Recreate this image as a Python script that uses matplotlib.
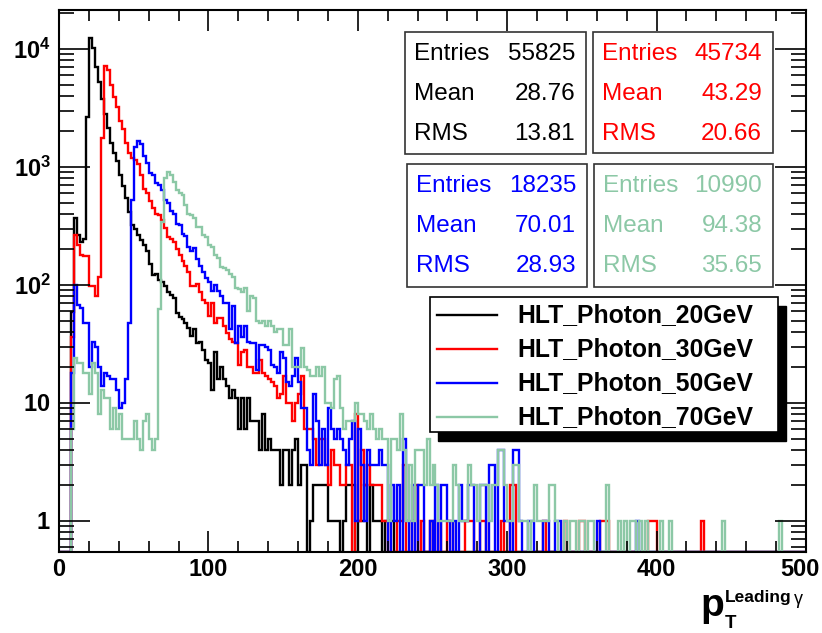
import matplotlib
matplotlib.use('Agg')
import matplotlib.pyplot as plt
import matplotlib.transforms as mtransforms
import numpy as np
from matplotlib.patches import Rectangle
from matplotlib.lines import Line2D
from matplotlib.ticker import FixedLocator, NullFormatter, FixedFormatter

plt.rcParams['font.family'] = ['Liberation Sans', 'DejaVu Sans']
plt.rcParams['mathtext.fontset'] = 'custom'
plt.rcParams['mathtext.rm'] = 'Liberation Sans'
plt.rcParams['mathtext.bf'] = 'Liberation Sans:bold'

# 2 GeV bins, 0-500 GeV
bin_edges = np.arange(0, 502, 2)

counts_20 = [
    0, 0, 0, 0, 59, 366, 263, 233, 243, 2630,
    12500, 10250, 7100, 5250, 3760, 2800, 2150, 1600, 1320, 1120,
    860, 684, 543, 418, 322, 300, 263, 240, 218, 196,
    150, 122, 124, 110, 106, 98, 87, 82, 78, 58,
    54, 51, 48, 43, 37, 42, 32, 33, 28, 23,
    22, 13, 27, 16, 20, 16, 14, 11, 13, 11,
    6, 11, 6, 11, 7, 7, 7, 4, 8, 4,
    5, 4, 4, 4, 2, 4, 4, 2, 4, 5,
    2, 3, 3, 0, 1, 2, 2, 2, 2, 2,
    1, 1, 1, 1, 0, 1, 2, 2, 2, 0,
    1, 1, 2, 0, 2, 1, 1, 1, 0, 1,
    1, 1, 0, 0, 0, 0, 0, 0, 0, 0,
] + [0] * 130

counts_30 = [
    0, 0, 0, 0, 36, 263, 220, 178, 175, 175,
    98, 98, 81, 117, 1770, 7200, 6660, 4930, 3890, 3200,
    2460, 2080, 1600, 1320, 1200, 1150, 1050, 860, 650, 600,
    510, 450, 400, 390, 355, 302, 255, 246, 232, 202,
    178, 160, 146, 128, 98, 98, 102, 87, 74, 71,
    55, 71, 48, 53, 53, 45, 39, 35, 33, 32,
    21, 27, 28, 20, 20, 18, 18, 23, 18, 17,
    16, 15, 14, 11, 12, 17, 10, 10, 7, 10,
    12, 17, 6, 6, 6, 5, 3, 5, 5, 3,
    2, 4, 3, 3, 2, 2, 3, 3, 0, 8,
    1, 4, 2, 3, 2, 2, 2, 2, 1, 1,
    0, 0, 0, 1, 1, 3, 0, 0, 1, 2,
    0, 1, 0, 0, 1, 0, 0, 1, 0, 0,
    1, 1, 0, 0, 0, 0, 1, 1, 1, 0,
    0, 1, 1, 0, 0, 0, 0, 0, 1, 0,
    0, 2, 2, 0, 0, 0, 0, 0, 0, 0,
    0, 0, 1, 0, 0, 0, 0, 0, 0, 1,
    0, 0, 0, 0, 1, 1, 0, 0, 0, 0,
    0, 1, 1, 1, 0, 0, 0, 0, 0, 0,
    0, 0, 0, 0, 0, 0, 0, 1, 1, 1,
    0, 0, 0, 0, 0, 0, 0, 0, 0, 0,
    0, 0, 0, 0, 0, 1, 0, 0, 0, 0,
] + [0] * 30

counts_50 = [
    0, 0, 0, 0, 18, 100, 68, 64, 48, 48,
    20, 33, 30, 20, 14, 18, 17, 16, 16, 13,
    9, 10, 16, 48, 523, 1490, 1650, 1560, 1230, 1080,
    890, 850, 730, 700, 640, 525, 500, 420, 400, 330,
    320, 272, 260, 210, 195, 205, 167, 146, 128, 115,
    106, 89, 100, 89, 81, 71, 70, 42, 66, 32,
    45, 36, 45, 33, 32, 32, 19, 31, 31, 30,
    28, 21, 20, 18, 27, 24, 15, 14, 17, 24,
    15, 9, 9, 4, 3, 12, 7, 3, 6, 3,
    9, 6, 5, 6, 5, 4, 3, 5, 7, 1,
    6, 3, 1, 4, 3, 3, 3, 4, 3, 3,
    0, 2, 1, 2, 0, 5, 1, 0, 2, 0,
    2, 2, 0, 0, 1, 0, 2, 0, 2, 2,
    1, 0, 1, 0, 2, 1, 1, 2, 2, 0,
    0, 2, 2, 0, 3, 3, 0, 4, 4, 1,
    1, 0, 4, 4, 1, 0, 0, 1, 1, 0,
    0, 0, 1, 1, 0, 0, 1, 1, 0, 0,
    0, 0, 0, 0, 0, 0, 0, 0, 0, 0,
    1, 0, 0, 0, 0, 0, 0, 0, 0, 0,
    0, 0, 0, 1, 0, 0, 0, 0, 0, 0,
] + [0] * 50

counts_70 = [
    0, 0, 0, 0, 6, 24, 22, 22, 18, 18,
    12, 22, 18, 8, 13, 11, 11, 6, 9, 6,
    8, 5, 5, 5, 5, 7, 5, 4, 7, 8,
    5, 4, 5, 62, 345, 800, 900, 860, 740, 640,
    600, 580, 475, 403, 390, 366, 310, 310, 265, 255,
    218, 210, 178, 170, 141, 138, 135, 124, 118, 95,
    92, 87, 95, 60, 81, 78, 50, 48, 50, 45,
    50, 45, 40, 42, 42, 31, 31, 42, 20, 20,
    20, 29, 20, 19, 17, 17, 20, 17, 20, 10,
    10, 9, 16, 17, 9, 6, 7, 7, 7, 10,
    8, 8, 7, 6, 8, 6, 5, 6, 5, 5,
    1, 5, 5, 4, 8, 4, 1, 3, 1, 4,
    4, 4, 2, 5, 2, 3, 2, 1, 1, 1,
    1, 1, 3, 2, 1, 1, 1, 3, 2, 2,
    1, 2, 2, 2, 1, 2, 2, 4, 4, 2,
    1, 1, 3, 3, 1, 1, 1, 0, 1, 2,
    1, 1, 1, 1, 2, 2, 1, 0, 0, 1,
    0, 1, 1, 0, 1, 1, 0, 1, 1, 0,
    0, 0, 0, 2, 0, 0, 0, 1, 0, 1,
    0, 1, 1, 0, 1, 0, 1, 0, 0, 0,
    0, 1, 0, 0, 1, 0, 0, 0, 0, 0,
    0, 0, 0, 0, 0, 0, 0, 0, 0, 0,
    0, 0, 1, 0, 0, 0, 0, 0, 0, 0,
    0, 0, 0, 0, 0, 0, 0, 0, 0, 0,
    0, 1, 0, 0, 0, 0, 0, 0, 0, 0,
]

names = ['HLT_Photon_20GeV', 'HLT_Photon_30GeV', 'HLT_Photon_50GeV', 'HLT_Photon_70GeV']
colors = ['black', '#ff0000', '#0000ff', '#8cc8a6']
entries = ['55825', '45734', '18235', '10990']
means = ['28.76', '43.29', '70.01', '94.38']
rms = ['13.81', '20.66', '28.93', '35.65']

W, H = 822, 633
ymin, ymax = 0.546, 2.14e4


def fx(x):
    return x / W


def fy(y):
    return 1 - y / H


fig = plt.figure(figsize=(W / 100, H / 100), dpi=100)
ax = fig.add_axes([fx(59), fy(552), (806 - 59) / W, (552 - 10) / H])

for vals, c in zip([counts_20, counts_30, counts_50, counts_70], colors):
    v = np.maximum(np.array(vals, dtype=float), ymin)
    ax.stairs(v, bin_edges, baseline=None, color=c, lw=1.7)

ax.set_yscale('log')
ax.set_xlim(0, 500)
ax.set_ylim(ymin, ymax)

ax.xaxis.set_major_locator(FixedLocator([0, 100, 200, 300, 400, 500]))
ax.xaxis.set_minor_locator(FixedLocator(np.arange(0, 501, 20)))
ax.yaxis.set_major_locator(FixedLocator([1, 10, 100, 1000, 10000]))
ax.yaxis.set_major_formatter(FixedFormatter(
    [r'$\mathbf{1}$', r'$\mathbf{10}$', r'$\mathbf{10^{2}}$', r'$\mathbf{10^{3}}$', r'$\mathbf{10^{4}}$']))
minors = [m * 10 ** d for d in range(-1, 5) for m in range(2, 10)]
ax.yaxis.set_minor_locator(FixedLocator(minors))
ax.yaxis.set_minor_formatter(NullFormatter())
ax.tick_params(axis='both', which='both', direction='in', top=True, right=True, width=1.2)
ax.tick_params(axis='x', which='major', length=15, labelsize=17, pad=4)
ax.tick_params(axis='x', which='minor', length=8)
ax.tick_params(axis='y', which='major', length=22, labelsize=17, pad=6)
ax.tick_params(axis='y', which='minor', length=11)
xlabels = ax.get_xticklabels()
for lab in xlabels:
    lab.set_fontweight('bold')
# keep the last label inside the canvas
xlabels[-1].set_transform(xlabels[-1].get_transform()
                          + mtransforms.ScaledTranslation(-6 / 100, 0, fig.dpi_scale_trans))
for s in ax.spines.values():
    s.set_linewidth(1.5)

# axis title
fig.text(fx(700), fy(616), 'p', fontsize=28, fontweight='bold', ha='left', va='baseline')
fig.text(fx(725), fy(628), 'T', fontsize=13.5, fontweight='bold', ha='left', va='baseline')
fig.text(fx(725), fy(602), 'Leading', fontsize=12.5, fontweight='bold', ha='left', va='baseline')
fig.text(fx(794), fy(604), 'γ', fontsize=13, ha='left', va='baseline')

# statistics boxes
boxes = [(405, 32, 586, 154), (593, 32, 773, 153), (407, 164, 587, 287), (594, 164, 773, 287)]
for (x0, y0, x1, y1), c, e, m, r in zip(boxes, colors, entries, means, rms):
    fig.add_artist(Rectangle((fx(x0), fy(y1)), fx(x1 - x0), (y1 - y0) / H, transform=fig.transFigure,
                             facecolor='white', edgecolor='#333333', lw=1.2, zorder=5))
    rows = [y0 + 22, y0 + 62, y0 + 102]
    for yy, lab, val in zip(rows, ['Entries', 'Mean', 'RMS'], [e, m, r]):
        fig.text(fx(x0 + 9), fy(yy), lab, color=c, fontsize=17.5, ha='left', va='center', zorder=6)
        fig.text(fx(x1 - 11), fy(yy), val, color=c, fontsize=17.5, ha='right', va='center', zorder=6)

# legend with shadow
lx0, ly0, lx1, ly1 = 430, 297, 778, 432
fig.add_artist(Rectangle((fx(lx0 + 8), fy(ly1 + 9)), fx(lx1 - lx0), (ly1 - ly0) / H, transform=fig.transFigure,
                         facecolor='black', edgecolor='black', lw=1, zorder=5))
fig.add_artist(Rectangle((fx(lx0), fy(ly1)), fx(lx1 - lx0), (ly1 - ly0) / H, transform=fig.transFigure,
                         facecolor='white', edgecolor='black', lw=1.2, zorder=6))
for i, (n, c) in enumerate(zip(names, colors)):
    yy = 315 + i * 34
    fig.add_artist(Line2D([fx(437), fx(497)], [fy(yy), fy(yy)], transform=fig.transFigure,
                          color=c, lw=1.7, zorder=7))
    fig.text(fx(517), fy(yy), n, fontsize=17.8, fontweight='bold', ha='left', va='center', zorder=7)

fig.savefig('out.png', dpi=100)
